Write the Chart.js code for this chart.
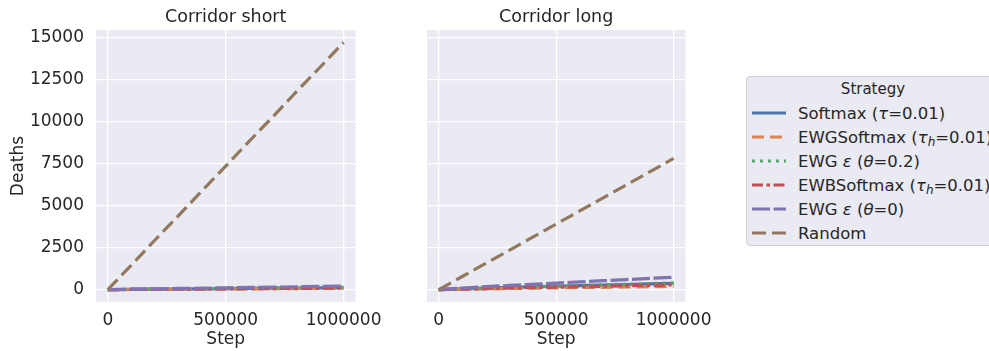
<!DOCTYPE html>
<html>
<head>
<meta charset="utf-8">
<script src="https://cdn.jsdelivr.net/npm/chart.js@4"></script>
<style>
  body { margin: 0; width: 989px; height: 351px; overflow: hidden; background: #fff; font-family: "DejaVu Sans", sans-serif; position: relative; }
  canvas { position: absolute; top: 0; }
  #legend { position: absolute; left: 746px; top: 76px; width: 270px; height: 170px; box-sizing: border-box;
            border: 1px solid #cfcfd6; border-radius: 4px; background: #eaeaf2; color: #262626; }
  #legend .title { position: absolute; top: 3px; left: 0; width: 252px; text-align: center; font-size: 15px; }
  #legend .row { position: absolute; left: 4px; height: 24px; display: flex; align-items: center; font-size: 16.5px; white-space: nowrap; }
  #legend svg { width: 36px; height: 10px; margin-right: 11px; }
  sub { font-size: 12px; vertical-align: -3px; line-height: 0; }
</style>
</head>
<body>
<canvas id="left" width="390" height="351" style="left:0"></canvas>
<canvas id="right" width="720" height="351" style="left:0"></canvas>
<div id="legend"><div class="title">Strategy</div></div>
<script>
const steps = [0, 100000, 200000, 300000, 400000, 500000, 600000, 700000, 800000, 900000, 1000000];

const strategies = ['Softmax (τ=0.01)', 'EWGSoftmax (τh=0.01)', 'EWG ε (θ=0.2)', 'EWBSoftmax (τh=0.01)', 'EWG ε (θ=0)', 'Random'];
const legendHtml = ['Softmax (<i>τ</i>=0.01)', 'EWGSoftmax (<i>τ<sub>h</sub></i>=0.01)', 'EWG <i>ε</i> (<i>θ</i>=0.2)',
                    'EWBSoftmax (<i>τ<sub>h</sub></i>=0.01)', 'EWG <i>ε</i> (<i>θ</i>=0)', 'Random'];
const colors = ['#4c72b0', '#dd8452', '#55a868', '#c44e52', '#8172b3', '#937860'];
const dashes = [[], [12, 6], [3, 5], [11, 3.5, 3.5, 3.5], [18, 3.5], [14, 6]];

// Corridor short
const shortSoftmax = [0, 12, 25, 37, 49, 61, 73, 85, 97, 109, 120];
const shortEwgSoftmax = [0, 8, 17, 25, 33, 41, 49, 57, 65, 73, 80];
const shortEwgEps02 = [0, 15, 30, 45, 60, 75, 90, 105, 120, 135, 150];
const shortEwbSoftmax = [0, 10, 19, 28, 37, 46, 55, 64, 73, 82, 90];
const shortEwgEps0 = [0, 25, 48, 70, 90, 110, 130, 150, 170, 195, 220];
const shortRandom = [0, 1460, 2950, 4400, 5890, 7340, 8830, 10280, 11770, 13220, 14700];

// Corridor long
const longSoftmax = [0, 50, 90, 130, 165, 200, 235, 270, 305, 345, 380];
const longEwgSoftmax = [0, 25, 45, 65, 85, 105, 125, 140, 160, 180, 200];
const longEwgEps02 = [0, 50, 95, 135, 175, 215, 255, 290, 325, 360, 400];
const longEwbSoftmax = [0, 35, 65, 95, 120, 145, 170, 200, 225, 255, 280];
const longEwgEps0 = [0, 95, 175, 250, 320, 390, 460, 530, 600, 670, 740];
const longRandom = [0, 780, 1560, 2340, 3120, 3900, 4680, 5460, 6240, 7020, 7800];

const xTicks = [0, 500000, 1000000];
const yTicks = [0, 2500, 5000, 7500, 10000, 12500, 15000];

const font = { family: '"DejaVu Sans", sans-serif', size: 17, weight: 'normal' };
const ink = '#262626';

function makeDatasets(series) {
  return series.map((vals, i) => ({
    label: strategies[i],
    data: vals.map((v, j) => ({ x: steps[j], y: v })),
    borderColor: colors[i],
    borderWidth: 3.2,
    borderDash: dashes[i],
    pointRadius: 0,
    fill: false,
    tension: 0,
    order: series.length - i
  }));
}

// background of the axes and the subplot title, centred over the plot area
const axesDeco = {
  id: 'axesDeco',
  beforeDraw(chart) {
    const a = chart.chartArea, c = chart.ctx;
    c.save(); c.fillStyle = '#eaeaf2'; c.fillRect(a.left, a.top, a.right - a.left, a.bottom - a.top); c.restore();
  },
  afterDraw(chart, args, opts) {
    const a = chart.chartArea, c = chart.ctx;
    c.save();
    c.fillStyle = ink;
    c.font = '17.5px "DejaVu Sans", sans-serif';
    c.textAlign = 'center';
    c.textBaseline = 'middle';
    c.fillText(opts.text, (a.left + a.right) / 2, 17);
    c.restore();
  }
};

function makeChart(id, title, series, showY, leftWidth) {
  new Chart(document.getElementById(id), {
    type: 'line',
    data: { datasets: makeDatasets(series) },
    options: {
      responsive: false,
      animation: false,
      layout: { padding: { left: showY ? 0 : leftWidth, right: 11, top: 30, bottom: 0 } },
      plugins: {
        legend: { display: false },
        tooltip: { enabled: false },
        title: { display: false },
        axesDeco: { text: title }
      },
      scales: {
        x: {
          type: 'linear', min: -50000, max: 1050000,
          afterBuildTicks: s => { s.ticks = xTicks.map(v => ({ value: v })); },
          afterFit: s => { s.height = 49; },
          grid: { color: '#ffffff', lineWidth: 1.3, drawTicks: false },
          border: { display: false },
          ticks: { color: ink, font: font, padding: 8, maxRotation: 0, callback: v => String(v) },
          title: { display: true, text: 'Step', color: ink, font: font, padding: { top: 0, bottom: 1 } }
        },
        y: {
          min: -735, max: 15435,
          afterBuildTicks: s => { s.ticks = yTicks.map(v => ({ value: v })); },
          afterFit: s => { s.width = showY ? 96 : 0; },
          grid: { color: '#ffffff', lineWidth: 1.3, drawTicks: false },
          border: { display: false },
          ticks: { display: showY, color: ink, font: font, padding: 12, callback: v => String(v) },
          title: { display: showY, text: 'Deaths', color: ink, font: font, padding: { top: 8, bottom: 0 } }
        }
      }
    },
    plugins: [axesDeco]
  });
}

makeChart('left', 'Corridor short',
  [shortSoftmax, shortEwgSoftmax, shortEwgEps02, shortEwbSoftmax, shortEwgEps0, shortRandom], true, 0);
makeChart('right', 'Corridor long',
  [longSoftmax, longEwgSoftmax, longEwgEps02, longEwbSoftmax, longEwgEps0, longRandom], false, 427);

const legend = document.getElementById('legend');
legendHtml.forEach((html, i) => {
  const row = document.createElement('div');
  row.className = 'row';
  row.style.top = (24 + i * 24) + 'px';
  row.innerHTML = '<svg viewBox="0 0 36 10"><line x1="1" y1="5" x2="35" y2="5" stroke="' + colors[i] +
    '" stroke-width="3" stroke-dasharray="' + (dashes[i].length ? dashes[i].join(' ') : 'none') + '"/></svg><span>' + html + '</span>';
  legend.appendChild(row);
});
</script>
</body>
</html>
